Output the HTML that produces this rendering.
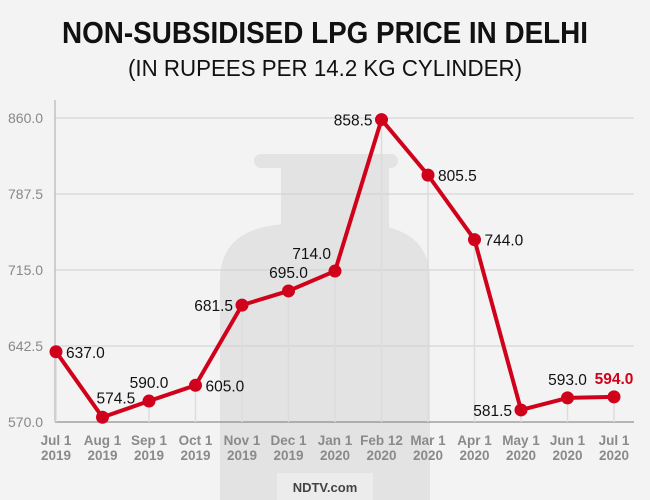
<!DOCTYPE html>
<html><head><meta charset="utf-8"><style>
html,body{margin:0;padding:0;background:#f3f3f3;}
svg{display:block;font-family:"Liberation Sans",sans-serif;}
</style></head><body>
<svg id="chart" width="650" height="500" viewBox="0 0 650 500">
<rect width="650" height="500" fill="#f3f3f3"/>
<text x="325" y="43" text-anchor="middle" font-size="31" font-weight="bold" textLength="526" lengthAdjust="spacingAndGlyphs" fill="#111">NON-SUBSIDISED LPG PRICE IN DELHI</text>
<text x="325" y="76" text-anchor="middle" font-size="23" textLength="394" lengthAdjust="spacingAndGlyphs" fill="#111">(IN RUPEES PER 14.2 KG CYLINDER)</text>
<g fill="#e3e3e3">
<rect x="254" y="154" width="144" height="14" rx="7"/>
<rect x="281" y="162" width="108" height="70"/>
<path d="M220 500 L220 280 Q220 226 290 224 L362 224 Q430 226 430 280 L430 500 Z"/>
</g>
<g id="grid"></g>
<g id="marks"></g>
<rect x="277" y="473" width="96" height="27" fill="#ececec"/>
<text x="325" y="492" text-anchor="middle" font-size="13" font-weight="bold" fill="#444">NDTV.com</text>
</svg>
<script>
const categories=["Jul 1|2019","Aug 1|2019","Sep 1|2019","Oct 1|2019","Nov 1|2019","Dec 1|2019","Jan 1|2020","Feb 12|2020","Mar 1|2020","Apr 1|2020","May 1|2020","Jun 1|2020","Jul 1|2020"];
const prices=[637.0,574.5,590.0,605.0,681.5,695.0,714.0,858.5,805.5,744.0,581.5,593.0,594.0];
const yTicks=[570.0,642.5,715.0,787.5,860.0];
const labelPos=["r","ar","a","r","l","a","al","l","r","r","l","a","a"];
const NS="http://www.w3.org/2000/svg";
const x0=56,x1=614,yMin=570,yMax=860,py0=422,py1=118;
function xs(i){return x0+(x1-x0)*i/(categories.length-1);}
function ys(v){return py0-(v-yMin)/(yMax-yMin)*(py0-py1);}
function mk(tag,attrs,parent){const e=document.createElementNS(NS,tag);for(const k in attrs)e.setAttribute(k,attrs[k]);parent.appendChild(e);return e;}
const grid=document.getElementById('grid'),marks=document.getElementById('marks');
yTicks.forEach((t,i)=>{
  const l=mk('line',{x1:55,x2:634,y1:ys(t),y2:ys(t),stroke:i==0?'#777':'#cfcfcf','stroke-width':1},grid);
  
  
  const tx=mk('text',{x:8,y:ys(t)+5,'font-size':14,fill:'#888'},grid);
  tx.textContent=t.toFixed(1);
  
  
});
const ax=mk('line',{x1:55,x2:55,y1:100,y2:ys(yMin),stroke:'#aaa','stroke-width':1},grid);


categories.forEach((c,i)=>{
  const v=mk('line',{x1:xs(i),x2:xs(i),y1:ys(prices[i]),y2:ys(yMin),stroke:'#dcdcdc','stroke-width':1.5},grid);
  
  
  const p=c.split('|');
  const t=mk('text',{x:xs(i),y:445,'text-anchor':'middle','font-size':13.5,'font-weight':'bold',fill:'#8a8a8a'},grid);
  
  
  mk('tspan',{x:xs(i),dy:0},t).textContent=p[0];
  mk('tspan',{x:xs(i),dy:15},t).textContent=p[1];
});
const pl=mk('polyline',{points:prices.map((v,i)=>xs(i)+','+ys(v)).join(' '),fill:'none',stroke:'#d0021b','stroke-width':4,'stroke-linejoin':'round'},marks);


prices.forEach((v,i)=>{
  const c=mk('circle',{cx:xs(i),cy:ys(v),r:6.5,fill:'#d0021b'},marks);
  
  
  const pos=labelPos[i];let x=xs(i),y=ys(v),a='middle';
  if(pos=='r'){x+=10;y+=6;a='start';}
  else if(pos=='l'){x-=9;y+=6;a='end';}
  else if(pos=='a'){y-=13;}
  else if(pos=='ar'){x-=6;y-=14;a='start';}
  else if(pos=='al'){x-=4;y-=12;a='end';}
  const last=i==prices.length-1;
  const t=mk('text',{x:x,y:y,'text-anchor':a,'font-size':15.5,fill:last?'#d0021b':'#111','font-weight':last?'bold':'normal'},marks);
  t.textContent=v.toFixed(1);
  
  
});
</script>
</body></html>
